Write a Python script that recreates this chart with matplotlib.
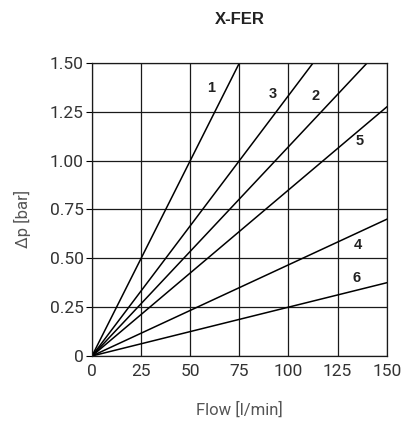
import numpy as np
import matplotlib.pyplot as plt

# end points of each curve (flow in l/min, pressure drop in bar)
curve_names = ['1', '3', '2', '5', '4', '6']
end_flow = [75, 112.5, 140, 150, 150, 150]
end_dp = [1.5, 1.5, 1.5, 1.275, 0.70, 0.375]

label_x = [60.5, 92, 114, 136, 135.5, 134.5]
label_y = [1.37, 1.34, 1.33, 1.10, 0.57, 0.40]

xticks = [0, 25, 50, 75, 100, 125, 150]
yticks = [0, 0.25, 0.5, 0.75, 1.0, 1.25, 1.5]
ytick_labels = ['0', '0.25', '0.50', '0.75', '1.00', '1.25', '1.50']

plt.rcParams['font.family'] = ['Roboto', 'DejaVu Sans']

fig = plt.figure(figsize=(4.01, 4.24), dpi=100)
ax = fig.add_axes([0.2294, 0.1604, 0.735, 0.691])

for name, fx, dp, lx, ly in zip(curve_names, end_flow, end_dp, label_x, label_y):
    ax.plot([0, fx], [0, dp], color='black', lw=1.1)
    ax.text(lx, ly, name, fontsize=10.5, fontweight='bold', color='#222222',
            family='Liberation Sans', ha='center', va='center')

ax.set_xlim(0, 150)
ax.set_ylim(0, 1.5)
ax.set_xticks(xticks)
ax.set_yticks(yticks)
ax.set_yticklabels(ytick_labels)
ax.grid(True, color='#1a1a1a', lw=0.9)
for sp in ax.spines.values():
    sp.set_color('#1a1a1a')
    sp.set_linewidth(0.9)

ax.tick_params(axis='x', length=0, pad=6, labelsize=12.5, labelcolor='#333333')
ax.tick_params(axis='y', length=4, pad=2, labelsize=12.5, labelcolor='#333333')

fig.text(0.598, 0.953, 'X-FER', fontsize=12, fontweight='bold',
         family='Liberation Sans', color='#222222', ha='center', va='center')
fig.text(0.598, 0.033, 'Flow [l/min]', fontsize=12, color='#555555',
         ha='center', va='center')
fig.text(0.055, 0.483, 'Δp [bar]', fontsize=12, color='#555555',
         rotation=90, ha='center', va='center')

fig.savefig('out.png', dpi=100)
